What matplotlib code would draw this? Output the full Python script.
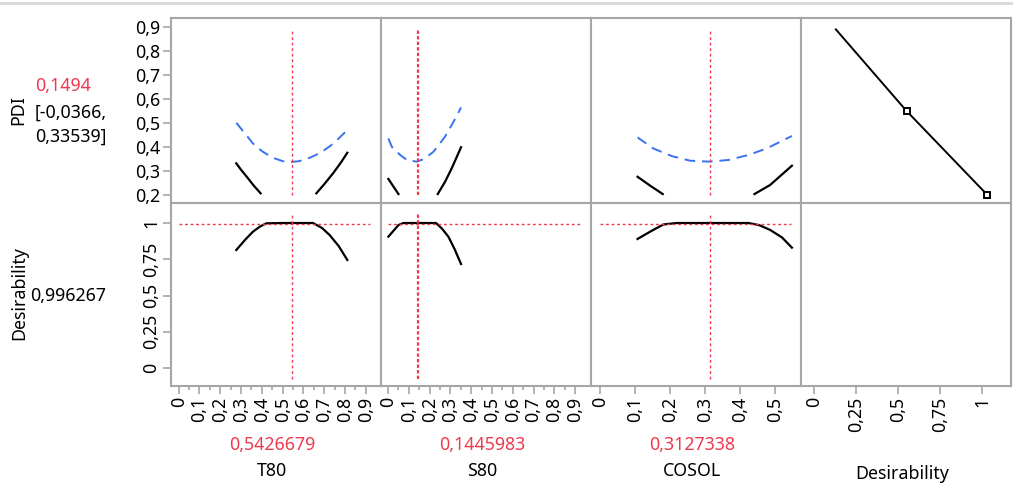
import numpy as np
import matplotlib
matplotlib.use("Agg")
import matplotlib.pyplot as plt
from matplotlib.lines import Line2D

plt.rcParams['font.family'] = ['Noto Sans', 'DejaVu Sans']
plt.rcParams['font.size'] = 12.8

# Valores actuales de los factores
t80_now = 0.5426679
s80_now = 0.1445983
cosol_now = 0.3127338
pdi_now = 0.1494
pdi_ci = (-0.0366, 0.33539)
des_now = 0.996267

# PDI: limite superior IC (azul) y prediccion (negro, tramos visibles)
t80_up_x = [0.277, 0.32, 0.357, 0.40, 0.45, 0.50, 0.53, 0.58, 0.63, 0.68, 0.73, 0.77, 0.81]
t80_up_y = [0.501, 0.455, 0.415, 0.383, 0.356, 0.341, 0.337, 0.341, 0.355, 0.375, 0.405, 0.436, 0.47]
t80_pred_a_x = [0.277, 0.30, 0.333, 0.36, 0.394]
t80_pred_a_y = [0.332, 0.305, 0.27, 0.24, 0.207]
t80_pred_b_x = [0.662, 0.70, 0.742, 0.78, 0.811]
t80_pred_b_y = [0.207, 0.245, 0.29, 0.335, 0.376]

s80_up_x = [0.0015, 0.018, 0.058, 0.09, 0.138, 0.17, 0.218, 0.274, 0.327, 0.351]
s80_up_y = [0.436, 0.401, 0.367, 0.346, 0.339, 0.349, 0.38, 0.443, 0.524, 0.565]
s80_pred_a_x = [0.0015, 0.026, 0.05]
s80_pred_a_y = [0.267, 0.235, 0.204]
s80_pred_b_x = [0.239, 0.274, 0.306, 0.351]
s80_pred_b_y = [0.204, 0.255, 0.311, 0.399]

cosol_up_x = [0.107, 0.152, 0.205, 0.257, 0.312, 0.367, 0.424, 0.476, 0.548]
cosol_up_y = [0.44, 0.394, 0.362, 0.343, 0.339, 0.346, 0.367, 0.394, 0.446]
cosol_pred_a_x = [0.107, 0.143, 0.179]
cosol_pred_a_y = [0.276, 0.239, 0.204]
cosol_pred_b_x = [0.441, 0.486, 0.548]
cosol_pred_b_y = [0.204, 0.242, 0.322]

# Deseabilidad vs factores
t80_des_x = [0.277, 0.32, 0.357, 0.39, 0.422, 0.50, 0.646, 0.69, 0.726, 0.77, 0.811]
t80_des_y = [0.814, 0.885, 0.94, 0.975, 0.998, 1.0, 1.0, 0.965, 0.917, 0.84, 0.745]
s80_des_x = [0.0015, 0.05, 0.074, 0.231, 0.26, 0.29, 0.32, 0.351]
s80_des_y = [0.906, 0.986, 1.0, 1.0, 0.96, 0.906, 0.82, 0.717]
cosol_des_x = [0.107, 0.15, 0.181, 0.219, 0.424, 0.455, 0.486, 0.52, 0.548]
cosol_des_y = [0.89, 0.95, 0.99, 1.0, 1.0, 0.985, 0.952, 0.9, 0.83]

# Funcion de deseabilidad del PDI
dfun_d = [0.13, 0.55, 1.03]
dfun_pdi = [0.89, 0.55, 0.2]

RED = '#ee3a4e'
BLUE = '#3a72f0'
GRAY = '#a6a6a6'

W, H = 1013, 487
cols = [171, 381, 591, 801, 1011]
rows = [18, 203, 386]


def box(x0, y0, x1, y1):
    return [x0 / W, 1 - y1 / H, (x1 - x0) / W, (y1 - y0) / H]


def fmt(v, pos=None):
    return f"{v:g}".replace('.', ',')


fig = plt.figure(figsize=(W / 100, H / 100), dpi=100)
fig.add_artist(Line2D([0, 1], [1 - 3 / H, 1 - 3 / H], color='#d8d8d8', lw=2))

xlims = [(-0.037, 0.973), (-0.034, 0.976), (-0.026, 0.574), (-0.077, 1.17)]
ylims = [(0.1667, 0.9375), (-0.124, 1.138)]

axes = {}
for r in range(2):
    for c in range(4):
        ax = fig.add_axes(box(cols[c], rows[r], cols[c + 1], rows[r + 1]))
        ax.set_xlim(*xlims[c])
        ax.set_ylim(*ylims[r])
        for s in ax.spines.values():
            s.set_color(GRAY)
            s.set_linewidth(1.5)
        ax.tick_params(colors=GRAY, labelcolor='black', length=6, width=1.2)
        ax.set_xticks([])
        ax.set_yticks([])
        axes[(r, c)] = ax

# ejes y
ax = axes[(0, 0)]
ax.set_yticks(np.arange(0.2, 0.95, 0.1))
ax.set_yticklabels([fmt(round(v, 1)) for v in np.arange(0.2, 0.95, 0.1)])
ax.tick_params(axis='y', pad=2)
ax = axes[(1, 0)]
dticks = [0, 0.25, 0.5, 0.75, 1]
ax.set_yticks(dticks)
ax.set_yticklabels([fmt(v) for v in dticks], rotation=90, va='center')
ax.tick_params(axis='y', pad=2)

# ejes x
xt = [np.round(np.arange(0, 0.95, 0.1), 1), np.round(np.arange(0, 0.95, 0.1), 1),
      np.round(np.arange(0, 0.55, 0.1), 1), dticks]
for c in range(4):
    ax = axes[(1, c)]
    ax.set_xticks(xt[c])
    ax.set_xticklabels([fmt(v) for v in xt[c]], rotation=90, ha='center', va='top')
    ax.tick_params(axis='x', pad=2)
    if c < 2:
        ax.set_xticks(np.arange(0.05, 0.95, 0.1), minor=True)
        ax.tick_params(axis='x', which='minor', length=3, width=1.2, colors=GRAY)

# curvas PDI
tops = [(t80_up_x, t80_up_y, t80_pred_a_x, t80_pred_a_y, t80_pred_b_x, t80_pred_b_y, t80_now),
        (s80_up_x, s80_up_y, s80_pred_a_x, s80_pred_a_y, s80_pred_b_x, s80_pred_b_y, s80_now),
        (cosol_up_x, cosol_up_y, cosol_pred_a_x, cosol_pred_a_y, cosol_pred_b_x, cosol_pred_b_y, cosol_now)]
for c, (ux, uy, ax_, ay_, bx_, by_, now) in enumerate(tops):
    ax = axes[(0, c)]
    ax.plot(ux, uy, color=BLUE, lw=1.4, dashes=(5.5, 3.5))
    ax.plot(ax_, ay_, color='black', lw=1.6)
    ax.plot(bx_, by_, color='black', lw=1.6)
    if c == 1:
        ax.plot([now, now], [0.2, 0.8875], color=RED, lw=1.6, dashes=(1.5, 1))
    else:
        ax.plot([now, now], [0.2, 0.8875], color=RED, lw=1.0, dashes=(2, 2))

bots = [(t80_des_x, t80_des_y, t80_now, 0.92), (s80_des_x, s80_des_y, s80_now, 0.923),
        (cosol_des_x, cosol_des_y, cosol_now, 0.545)]
for c, (dx, dy, now, xend) in enumerate(bots):
    ax = axes[(1, c)]
    ax.plot(dx, dy, color='black', lw=1.6)
    ax.plot([0, xend], [des_now, des_now], color=RED, lw=1.0, dashes=(2, 2))
    if c == 1:
        ax.plot([now, now], [-0.076, 1.067], color=RED, lw=1.6, dashes=(1.5, 1))
    else:
        ax.plot([now, now], [-0.076, 1.067], color=RED, lw=1.0, dashes=(2, 2))

ax = axes[(0, 3)]
ax.plot(dfun_d, dfun_pdi, color='black', lw=1.4)
ax.plot(dfun_d[1:], dfun_pdi[1:], ls='none', marker='s', ms=4.8, mfc='white',
        mec='black', mew=1.4)

# textos laterales
def ftext(x, y, s, **kw):
    fig.text(x / W, 1 - y / H, s, **kw)


ftext(18, 110, 'PDI', rotation=90, ha='center', va='center')
ftext(35, 86, fmt(pdi_now), color=RED, ha='left', va='center')
ftext(35, 113, '[' + fmt(pdi_ci[0]) + ',', ha='left', va='center')
ftext(35, 137, fmt(pdi_ci[1]) + ']', ha='left', va='center')
ftext(19, 293, 'Desirability', rotation=90, ha='center', va='center')
ftext(30, 296, fmt(des_now), ha='left', va='center')

names = ['T80', 'S80', 'COSOL', 'Desirability']
nows = [t80_now, s80_now, cosol_now]
for c in range(4):
    xc = (cols[c] + cols[c + 1]) / 2 - 4
    if c < 3:
        ftext(xc, 445, f"{nows[c]:.7f}".replace('.', ','), color=RED, ha='center', va='center')
        ftext(xc, 471, names[c], ha='center', va='center')
    else:
        ftext(xc, 474, names[c], ha='center', va='center')

fig.savefig('out.png', dpi=100)
